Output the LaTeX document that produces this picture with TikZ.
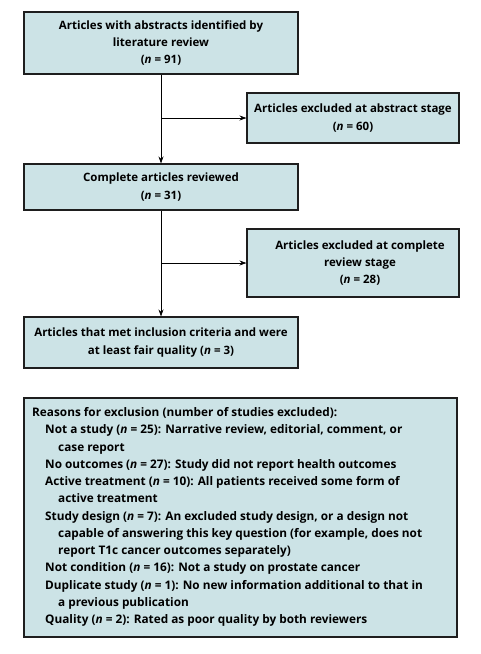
\documentclass[tikz,border=0pt]{standalone}
\usepackage{fontspec}
\setmainfont{Open Sans}
\usetikzlibrary{arrows.meta}
\definecolor{boxfill}{RGB}{204,227,230}
\definecolor{boxline}{RGB}{30,30,30}
\tikzset{
  flowbox/.style={draw=boxline, line width=1.1pt, fill=boxfill, align=center,
    font=\fontsize{11.5}{17.3}\selectfont\bfseries, inner sep=0pt},
  flowarrow/.style={-{Stealth[length=7pt,width=5pt]}, line width=0.8pt, black},
}
\begin{document}
\begin{tikzpicture}[x=1pt,y=-1pt]
\useasboundingbox (0,0) rectangle (481,654);
\node[flowbox, minimum width=274pt, minimum height=62pt] (b1) at (161,43)
  {Articles with abstracts identified by\\literature review\\(\textit{n} = 91)};
\node[flowbox, minimum width=212pt, minimum height=50pt] (b2) at (353,118)
  {Articles excluded at abstract stage\\(\textit{n} = 60)};
\node[flowbox, minimum width=274pt, minimum height=46pt] (b3) at (161,187)
  {Complete articles reviewed\\(\textit{n} = 31)};
\node[flowbox, minimum width=212pt, minimum height=68pt] (b4) at (353,263)
  {\hspace*{14pt}Articles excluded at complete\\\hspace*{14pt}review stage\\\hspace*{14pt}(\textit{n} = 28)};
\node[flowbox, minimum width=274pt, minimum height=51pt] (b5) at (161,342.5)
  {Articles that met inclusion criteria and were\\at least fair quality (\textit{n} = 3)};
\node[flowbox, minimum width=433pt, minimum height=239pt] (b6) at (240.5,517.5) {};
\node[anchor=north west, align=left, inner sep=0pt,
  font=\fontsize{11.8}{17.25}\selectfont\bfseries] (reasons) at (32,407.5)
  {Reasons for exclusion (number of studies excluded):\\
   \hspace*{13pt}Not a study (\textit{n} = 25): Narrative review, editorial, comment, or\\
   \hspace*{26pt}case report\\
   \hspace*{13pt}No outcomes (\textit{n} = 27): Study did not report health outcomes\\
   \hspace*{13pt}Active treatment (\textit{n} = 10): All patients received some form of\\
   \hspace*{26pt}active treatment\\
   \hspace*{13pt}Study design (\textit{n} = 7): An excluded study design, or a design not\\
   \hspace*{26pt}capable of answering this key question (for example, does not\\
   \hspace*{26pt}report T1c cancer outcomes separately)\\
   \hspace*{13pt}Not condition (\textit{n} = 16): Not a study on prostate cancer\\
   \hspace*{13pt}Duplicate study (\textit{n} = 1): No new information additional to that in\\
   \hspace*{26pt}a previous publication\\
   \hspace*{13pt}Quality (\textit{n} = 2): Rated as poor quality by both reviewers};
\draw[flowarrow] (b1.south) -- (b3.north);
\draw[flowarrow] (b1.south |- b2.west) -- (b2.west);
\draw[flowarrow] (b3.south) -- (b5.north);
\draw[flowarrow] (b3.south |- b4.west) -- (b4.west);
\end{tikzpicture}
\end{document}
